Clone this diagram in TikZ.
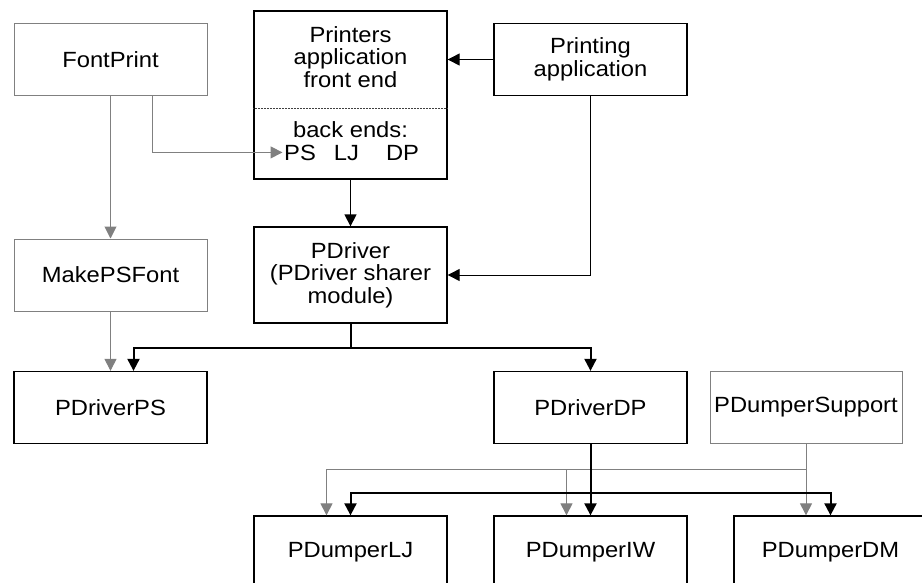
\documentclass[tikz,border=0pt]{standalone}
\usepackage{fontspec}
\setmainfont{Liberation Sans}[FakeStretch=1.08]
\usetikzlibrary{arrows.meta}
\begin{document}
\begin{tikzpicture}[x=1pt,y=-1pt,
  every node/.style={font=\fontsize{22}{22.5}\selectfont},
  box/.style={draw=black,line width=1.3pt,minimum width=193pt,minimum height=72pt,inner sep=0pt,align=center},
  gbox/.style={box,draw=gray,line width=1pt},
  lbl/.style={inner sep=0pt,anchor=base},
  tip/.style={-{Triangle[width=12pt,length=12pt]}},
  arr/.style={tip,line width=1pt},
  marr/.style={tip,line width=1.3pt},
  barr/.style={tip,line width=2pt},
  garr/.style={tip,draw=gray,line width=1pt}]
\useasboundingbox (0,0) rectangle (922,582);
\clip (0,0) rectangle (922,582);

% modules
\node[gbox] (fontprint) at (110.5,59.5) {FontPrint};
\node[gbox] (makeps) at (110.5,275) {MakePSFont};
\node[box] (pdps) at (110.5,407.5) {PDriverPS};
\node[box,minimum height=168pt] (printers) at (350.5,95) {};
\node[align=center,inner sep=0pt] (front) at (350.5,57) {Printers\\application\\front end};
\coordinate (div) at (350.5,108);
\draw[line width=1pt,black!75,dash pattern=on 0.75pt off 0.75pt] (div -| printers.west) -- (div -| printers.east);
\node[lbl] (backends) at (350.5,137) {back ends:};
\node[lbl,anchor=base west,inner sep=1.5pt] (bePS) at (282.5,160) {PS};
\node[lbl] (beLJ) at (346.5,160) {LJ};
\node[lbl] (beDP) at (402.5,160) {DP};
\node[box] (app) at (590.5,59.5) {Printing\\application};
\node[box,minimum height=96pt] (pdriver) at (350.5,275) {PDriver\\(PDriver sharer\\module)};
\node[box] (pddp) at (590.5,407.5) {PDriverDP};
\node[gbox,minimum width=192pt] (pdsup) at (806,407.5) {PDumperSupport};
\node[box] (dlj) at (350.5,552) {PDumperLJ};
\node[box] (diw) at (590.5,552) {PDumperIW};
\node[box] (ddm) at (830.5,552) {PDumperDM};

% connectors
\draw[arr] (app.west) -- (app.west -| printers.east);
\draw[garr] (fontprint) -- (makeps);
\draw[garr] ([xshift=42pt]fontprint.south) |- (bePS.west);
\draw[marr] (printers) -- (pdriver);
\draw[arr] (app.south) |- (pdriver.east);
\draw[garr] (makeps) -- (pdps);
\draw[barr] (pdriver.south) -- ++(0,24) -| ([xshift=23pt]pdps.north);
\draw[barr] (pdriver.south) -- ++(0,24) -| (pddp.north);
\draw[garr] (pdsup.south) -- ++(0,25) -| ([xshift=-24pt]dlj.north);
\draw[garr] (pdsup.south) -- ++(0,25) -| ([xshift=-24pt]diw.north);
\draw[garr] (pdsup.south) -- (pdsup.south |- ddm.north);
\draw[barr] (pddp.south) -- ++(0,48.5) -| (dlj.north);
\draw[barr] (pddp) -- (diw);
\draw[barr] (pddp.south) -- ++(0,48.5) -| (ddm.north);
\end{tikzpicture}
\end{document}
